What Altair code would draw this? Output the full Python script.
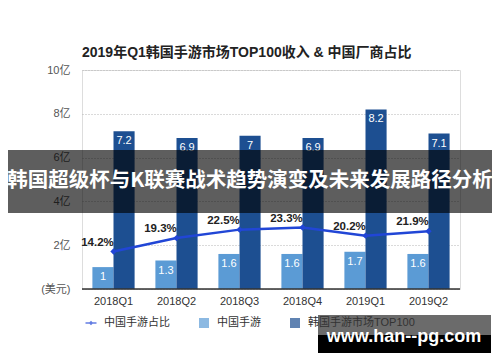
import altair as alt
import pandas as pd

FONT = "Liberation Sans, Noto Sans CJK SC"

# ---- data ----
quarters = ["2018Q1", "2018Q2", "2018Q3", "2018Q4", "2019Q1", "2019Q2"]
cn_revenue = [1.0, 1.3, 1.6, 1.6, 1.7, 1.6]          # 中国手游 (亿美元)
kr_top100 = [7.2, 6.9, 7.0, 6.9, 8.2, 7.1]           # 韩国手游市场TOP100 (亿美元)
cn_share = [14.2, 19.3, 22.5, 23.3, 20.2, 21.9]      # 中国手游占比 (%)
y_ticks = [0, 2, 4, 6, 8, 10]

S_LINE, S_CN, S_KR = "中国手游占比", "中国手游", "韩国手游市场TOP100"
C_LINE, C_CN, C_KR = "#2146d6", "#5b9bd5", "#1d4f91"

title_text = "2019年Q1韩国手游市场TOP100收入 & 中国厂商占比"
banner_text = "韩国超级杯与K联赛战术趋势演变及未来发展路径分析"
watermark_text = "www.han--pg.com"

rows = []
for q, a, b in zip(quarters, cn_revenue, kr_top100):
    rows.append({"q": q, "series": S_CN, "value": a, "label": f"{a:g}"})
    rows.append({"q": q, "series": S_KR, "value": b, "label": f"{b:g}"})
bars_df = pd.DataFrame(rows)
line_df = pd.DataFrame({"q": quarters, "pct": cn_share,
                        "label": [f"{p}%" for p in cn_share]})
legend_df = pd.DataFrame({"s": [S_LINE, S_CN, S_KR]})
one = pd.DataFrame({"k": [0]})

xenc = alt.X("q:N", sort=quarters,
             scale=alt.Scale(paddingInner=0.33, paddingOuter=0.165),
             axis=alt.Axis(labelAngle=0, ticks=False, domain=False, labelPadding=6,
                           labelFontSize=11, labelColor="#333", title=None,
                           grid=False, labelFont=FONT))
xoff = alt.XOffset("series:N", scale=alt.Scale(domain=[S_CN, S_KR], paddingInner=0))
yval = alt.Y("value:Q", scale=alt.Scale(domain=[0, 10]),
             axis=alt.Axis(values=y_ticks, title=None, domain=False, ticks=False,
                           grid=True, gridDash=[1, 2], gridColor="#b5b5b5",
                           labelPadding=12, labelFontSize=11, labelColor="#555",
                           labelFont=FONT, orient="left",
                           labelExpr="datum.value == 0 ? '(美元)' : datum.value + '亿'"))
yval_noaxis = alt.Y("value:Q", scale=alt.Scale(domain=[0, 10]), axis=None)
ypct = alt.Y("pct:Q", scale=alt.Scale(domain=[0, 83]), axis=None)

bars = alt.Chart(bars_df).mark_bar().encode(
    x=xenc, xOffset=xoff, y=yval,
    color=alt.condition(alt.datum.series == S_CN, alt.value(C_CN), alt.value(C_KR)),
)
bar_text = alt.Chart(bars_df).mark_text(dy=10, baseline="middle", fontSize=11,
                                        color="white", font=FONT).encode(
    x=xenc, xOffset=xoff, y=yval_noaxis, text="label:N")
baseline = alt.Chart(one).mark_rule(color="#333", strokeWidth=1.5).encode(
    y=alt.datum(0, scale=alt.Scale(domain=[0, 10]), axis=None))

line = alt.Chart(line_df).mark_line(color=C_LINE, strokeWidth=2.5).encode(x=xenc, y=ypct)
pts = alt.Chart(line_df).mark_point(shape="diamond", filled=True, size=40,
                                    color=C_LINE, opacity=1).encode(x=xenc, y=ypct)
pct_text = alt.Chart(line_df).mark_text(dx=-16, dy=-9, fontSize=11.5, fontWeight="bold",
                                        color="#222", font=FONT).encode(
    x=xenc, y=ypct, text="label:N")

line_symbol = ("M-1.1,-0.13L1.1,-0.13L1.1,0.13L-1.1,0.13Z "
               "M0,-0.45L0.45,0L0,0.45L-0.45,0Z")
legend = alt.Legend(title=None, orient="none", legendX=3, legendY=247,
                    direction="horizontal", columns=3, columnPadding=28,
                    labelFontSize=11, labelColor="#333", labelFont=FONT,
                    symbolSize=100, labelOffset=7, zindex=0)
# legend-only points, hidden beneath the opaque watermark box drawn later
legend_layer = alt.Chart(legend_df).mark_point(filled=True, size=60).encode(
    x=alt.value(300), y=alt.value(275),
    color=alt.Color("s:N", scale=alt.Scale(domain=[S_LINE, S_CN, S_KR],
                                           range=[C_LINE, C_CN, C_KR]), legend=legend),
    shape=alt.Shape("s:N", scale=alt.Scale(domain=[S_LINE, S_CN, S_KR],
                                           range=[line_symbol, "square", "square"]),
                    legend=legend),
)

# ---- overlays seen on the reference image ----
band = alt.Chart(one).mark_rect(color="black", opacity=0.63).encode(
    x=alt.value(-90), x2=alt.value(430), y=alt.value(80), y2=alt.value(143))
band_text = alt.Chart(one).mark_text(color="white", fontSize=20.5, fontWeight="bold",
                                     font="Noto Sans CJK SC", align="center",
                                     baseline="middle").encode(
    x=alt.value(168), y=alt.value(111), text=alt.value(banner_text))
wm_top = alt.Chart(one).mark_rect(color="black", opacity=0.58).encode(
    x=alt.value(236), x2=alt.value(409), y=alt.value(245), y2=alt.value(265))
wm_bot = alt.Chart(one).mark_rect(color="black", opacity=1).encode(
    x=alt.value(236), x2=alt.value(409), y=alt.value(265), y2=alt.value(283))
wm_text = alt.Chart(one).mark_text(color="white", fontSize=18, fontWeight="bold",
                                   font="Liberation Sans", align="center",
                                   baseline="alphabetic").encode(
    x=alt.value(322), y=alt.value(272), text=alt.value(watermark_text))

chart = alt.layer(
    bars, bar_text, baseline, line, pts, pct_text,
    legend_layer, band, band_text, wm_top, wm_bot, wm_text,
).resolve_scale(y="independent").properties(
    width=378, height=219,
    autosize=alt.AutoSizeParams(type="none"),
    padding={"left": 74, "top": 62, "right": 32, "bottom": 64},
    title=alt.TitleParams(title_text, anchor="start", frame="group", offset=9, dy=5,
                          fontSize=14, fontWeight="bold", color="#222", font=FONT),
).configure_view(strokeWidth=0).configure(background="white")

chart.save("out.html", embed_options={"renderer": "svg", "actions": False})
